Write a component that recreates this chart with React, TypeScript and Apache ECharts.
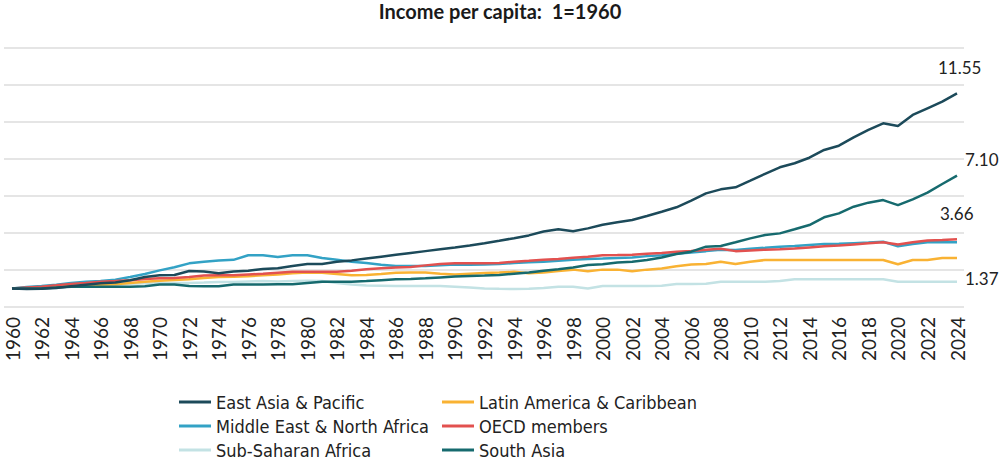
import React, { useEffect, useRef } from "react";
import * as echarts from "echarts";

const years: number[] = Array.from({ length: 65 }, (_, i) => 1960 + i);
const tickYears: number[] = years.filter((y) => y % 2 === 0);

const eastAsia = [
  1.0, 0.97, 0.98, 1.03, 1.12, 1.2, 1.28, 1.33, 1.45, 1.62,
  1.72, 1.73, 1.95, 1.92, 1.82, 1.92, 1.96, 2.05, 2.09, 2.22,
  2.32, 2.33, 2.45, 2.52, 2.62, 2.72, 2.82, 2.92, 3.02, 3.12,
  3.22, 3.33, 3.45, 3.58, 3.72, 3.87, 4.08, 4.2, 4.1, 4.25,
  4.45, 4.58, 4.7, 4.92, 5.15, 5.39, 5.75, 6.14, 6.36, 6.47,
  6.83, 7.2, 7.55, 7.77, 8.07, 8.49, 8.72, 9.17, 9.57, 9.93,
  9.78, 10.38, 10.74, 11.1, 11.55,
];
const latinAmerica = [
  1.0, 1.03, 1.06, 1.08, 1.14, 1.18, 1.2, 1.23, 1.3, 1.36,
  1.42, 1.46, 1.5, 1.57, 1.62, 1.63, 1.66, 1.72, 1.75, 1.82,
  1.87, 1.85, 1.78, 1.72, 1.73, 1.78, 1.85, 1.87, 1.86, 1.8,
  1.76, 1.8, 1.84, 1.86, 1.9, 1.82, 1.86, 1.95, 2.02, 1.93,
  2.02, 2.02, 1.93, 2.02, 2.08, 2.2, 2.3, 2.32, 2.45, 2.32,
  2.45, 2.54, 2.54, 2.54, 2.54, 2.54, 2.54, 2.54, 2.54, 2.54,
  2.31, 2.54, 2.54, 2.65, 2.65,
];
const middleEast = [
  1.0, 1.08, 1.13, 1.2, 1.3, 1.37, 1.4, 1.48, 1.62, 1.78,
  1.98, 2.15, 2.36, 2.45, 2.52, 2.55, 2.8, 2.8, 2.7, 2.8,
  2.8, 2.65, 2.55, 2.45, 2.38, 2.28, 2.22, 2.22, 2.22, 2.25,
  2.3, 2.28, 2.3, 2.32, 2.38, 2.42, 2.45, 2.5, 2.55, 2.6,
  2.62, 2.65, 2.68, 2.75, 2.8, 2.88, 2.95, 3.02, 3.1, 3.08,
  3.15, 3.2, 3.26, 3.3, 3.35, 3.4, 3.42, 3.45, 3.48, 3.53,
  3.28, 3.4, 3.5, 3.5, 3.5,
];
const oecd = [
  1.0, 1.05, 1.1, 1.17, 1.25, 1.3, 1.36, 1.4, 1.45, 1.52,
  1.55, 1.57, 1.62, 1.7, 1.72, 1.72, 1.76, 1.8, 1.85, 1.9,
  1.9, 1.91, 1.9, 1.96, 2.04, 2.09, 2.13, 2.16, 2.25, 2.32,
  2.36, 2.37, 2.37, 2.38, 2.45, 2.5, 2.56, 2.6, 2.66, 2.72,
  2.8, 2.81, 2.83, 2.88, 2.92, 2.98, 3.03, 3.1, 3.15, 3.02,
  3.06, 3.1, 3.12, 3.16, 3.22, 3.28, 3.32, 3.38, 3.44, 3.5,
  3.38, 3.5, 3.6, 3.62, 3.66,
];
const subSaharan = [
  1.0, 1.03, 1.05, 1.1, 1.15, 1.18, 1.18, 1.2, 1.25, 1.28,
  1.3, 1.3, 1.3, 1.32, 1.35, 1.35, 1.38, 1.4, 1.38, 1.4,
  1.42, 1.4, 1.3, 1.22, 1.16, 1.15, 1.14, 1.13, 1.14, 1.13,
  1.1, 1.06, 1.0, 0.98, 0.97, 0.99, 1.03, 1.1, 1.1, 1.0,
  1.13, 1.13, 1.13, 1.13, 1.15, 1.24, 1.24, 1.26, 1.37, 1.37,
  1.37, 1.37, 1.4, 1.5, 1.5, 1.5, 1.5, 1.5, 1.5, 1.5,
  1.37, 1.37, 1.37, 1.37, 1.37,
];
const southAsia = [
  1.0, 1.0, 1.0, 1.05, 1.1, 1.1, 1.09, 1.1, 1.1, 1.12,
  1.22, 1.22, 1.13, 1.12, 1.12, 1.22, 1.22, 1.22, 1.23, 1.23,
  1.3, 1.37, 1.37, 1.37, 1.4, 1.45, 1.5, 1.52, 1.55, 1.6,
  1.65, 1.68, 1.7, 1.73, 1.8, 1.87, 1.96, 2.04, 2.14, 2.27,
  2.31, 2.41, 2.45, 2.54, 2.68, 2.86, 2.99, 3.26, 3.3, 3.5,
  3.71, 3.89, 3.98, 4.2, 4.43, 4.85, 5.06, 5.42, 5.64, 5.78,
  5.51, 5.82, 6.18, 6.65, 7.1,
];

const LABEL_FONT = "Lato, 'Noto Sans', sans-serif";
const LEGEND_FONT = "'Liberation Sans Narrow', 'DejaVu Sans Condensed', Roboto, sans-serif";

type Def = {
  name: string;
  values: number[];
  color: string;
  endOffset?: [number, number];
};

const defs: Def[] = [
  { name: "Sub-Saharan Africa", values: subSaharan, color: "#c3e2e4", endOffset: [0, -3] },
  { name: "Latin America & Caribbean", values: latinAmerica, color: "#f9b233" },
  { name: "Middle East & North Africa", values: middleEast, color: "#33a2c5" },
  { name: "OECD members", values: oecd, color: "#e2514f", endOffset: [-25, -26] },
  { name: "South Asia", values: southAsia, color: "#166a6e", endOffset: [0, -16] },
  { name: "East Asia & Pacific", values: eastAsia, color: "#1c4a5a", endOffset: [-27, -26] },
];

export default function App() {
  const ref = useRef<HTMLDivElement>(null);
  useEffect(() => {
    const chart = echarts.init(ref.current!, null, { renderer: "svg" });
    const legendText = { fontSize: 18, color: "#222", fontFamily: LEGEND_FONT, lineHeight: 18 };
    chart.setOption({
      animation: false,
      backgroundColor: "#ffffff",
      title: {
        text: "Income per capita:  1=1960",
        left: "center",
        top: 1,
        padding: 0,
        textStyle: { fontSize: 20, fontWeight: "bold", color: "#1a1a1a", fontFamily: LABEL_FONT },
      },
      legend: [
        {
          data: ["East Asia & Pacific", "Middle East & North Africa", "Sub-Saharan Africa"],
          orient: "vertical",
          left: 179,
          top: 393,
          itemWidth: 32,
          itemHeight: 3,
          itemGap: 6,
          icon: "rect",
          padding: 0,
          textStyle: legendText,
        },
        {
          data: ["Latin America & Caribbean", "OECD members", "South Asia"],
          orient: "vertical",
          left: 442,
          top: 393,
          itemWidth: 32,
          itemHeight: 3,
          itemGap: 6,
          icon: "rect",
          padding: 0,
          textStyle: legendText,
        },
      ],
      grid: { left: 4, right: 36, top: 48, bottom: 157, containLabel: false },
      xAxis: {
        type: "value",
        min: 1959.458,
        max: 2024.474,
        splitLine: { show: false },
        axisLine: { show: false },
        axisTick: { show: false },
        axisLabel: {
          customValues: tickYears,
          rotate: 90,
          margin: 10,
          fontSize: 19,
          color: "#222",
          fontFamily: LABEL_FONT,
          formatter: (v: number) => String(v),
        },
      },
      yAxis: {
        type: "value",
        min: 0,
        max: 14,
        interval: 2,
        axisLabel: { show: false },
        axisLine: { show: false },
        axisTick: { show: false },
        splitLine: { lineStyle: { color: "#dcdcdc", width: 1.5 } },
      },
      series: defs.map((d) => ({
        name: d.name,
        type: "line",
        data: years.map((y, i) => [y, d.values[i]]),
        symbol: "none",
        color: d.color,
        lineStyle: { color: d.color, width: 2.5 },
        endLabel: d.endOffset
          ? {
              show: true,
              formatter: (p: any) => Number(p.value[1]).toFixed(2),
              offset: d.endOffset,
              fontSize: 17,
              color: "#222",
              fontFamily: LABEL_FONT,
            }
          : { show: false },
      })),
    });
    return () => chart.dispose();
  }, []);
  return <div ref={ref} style={{ position: "fixed", left: 0, top: 0, width: 1000, height: 464 }} />;
}
